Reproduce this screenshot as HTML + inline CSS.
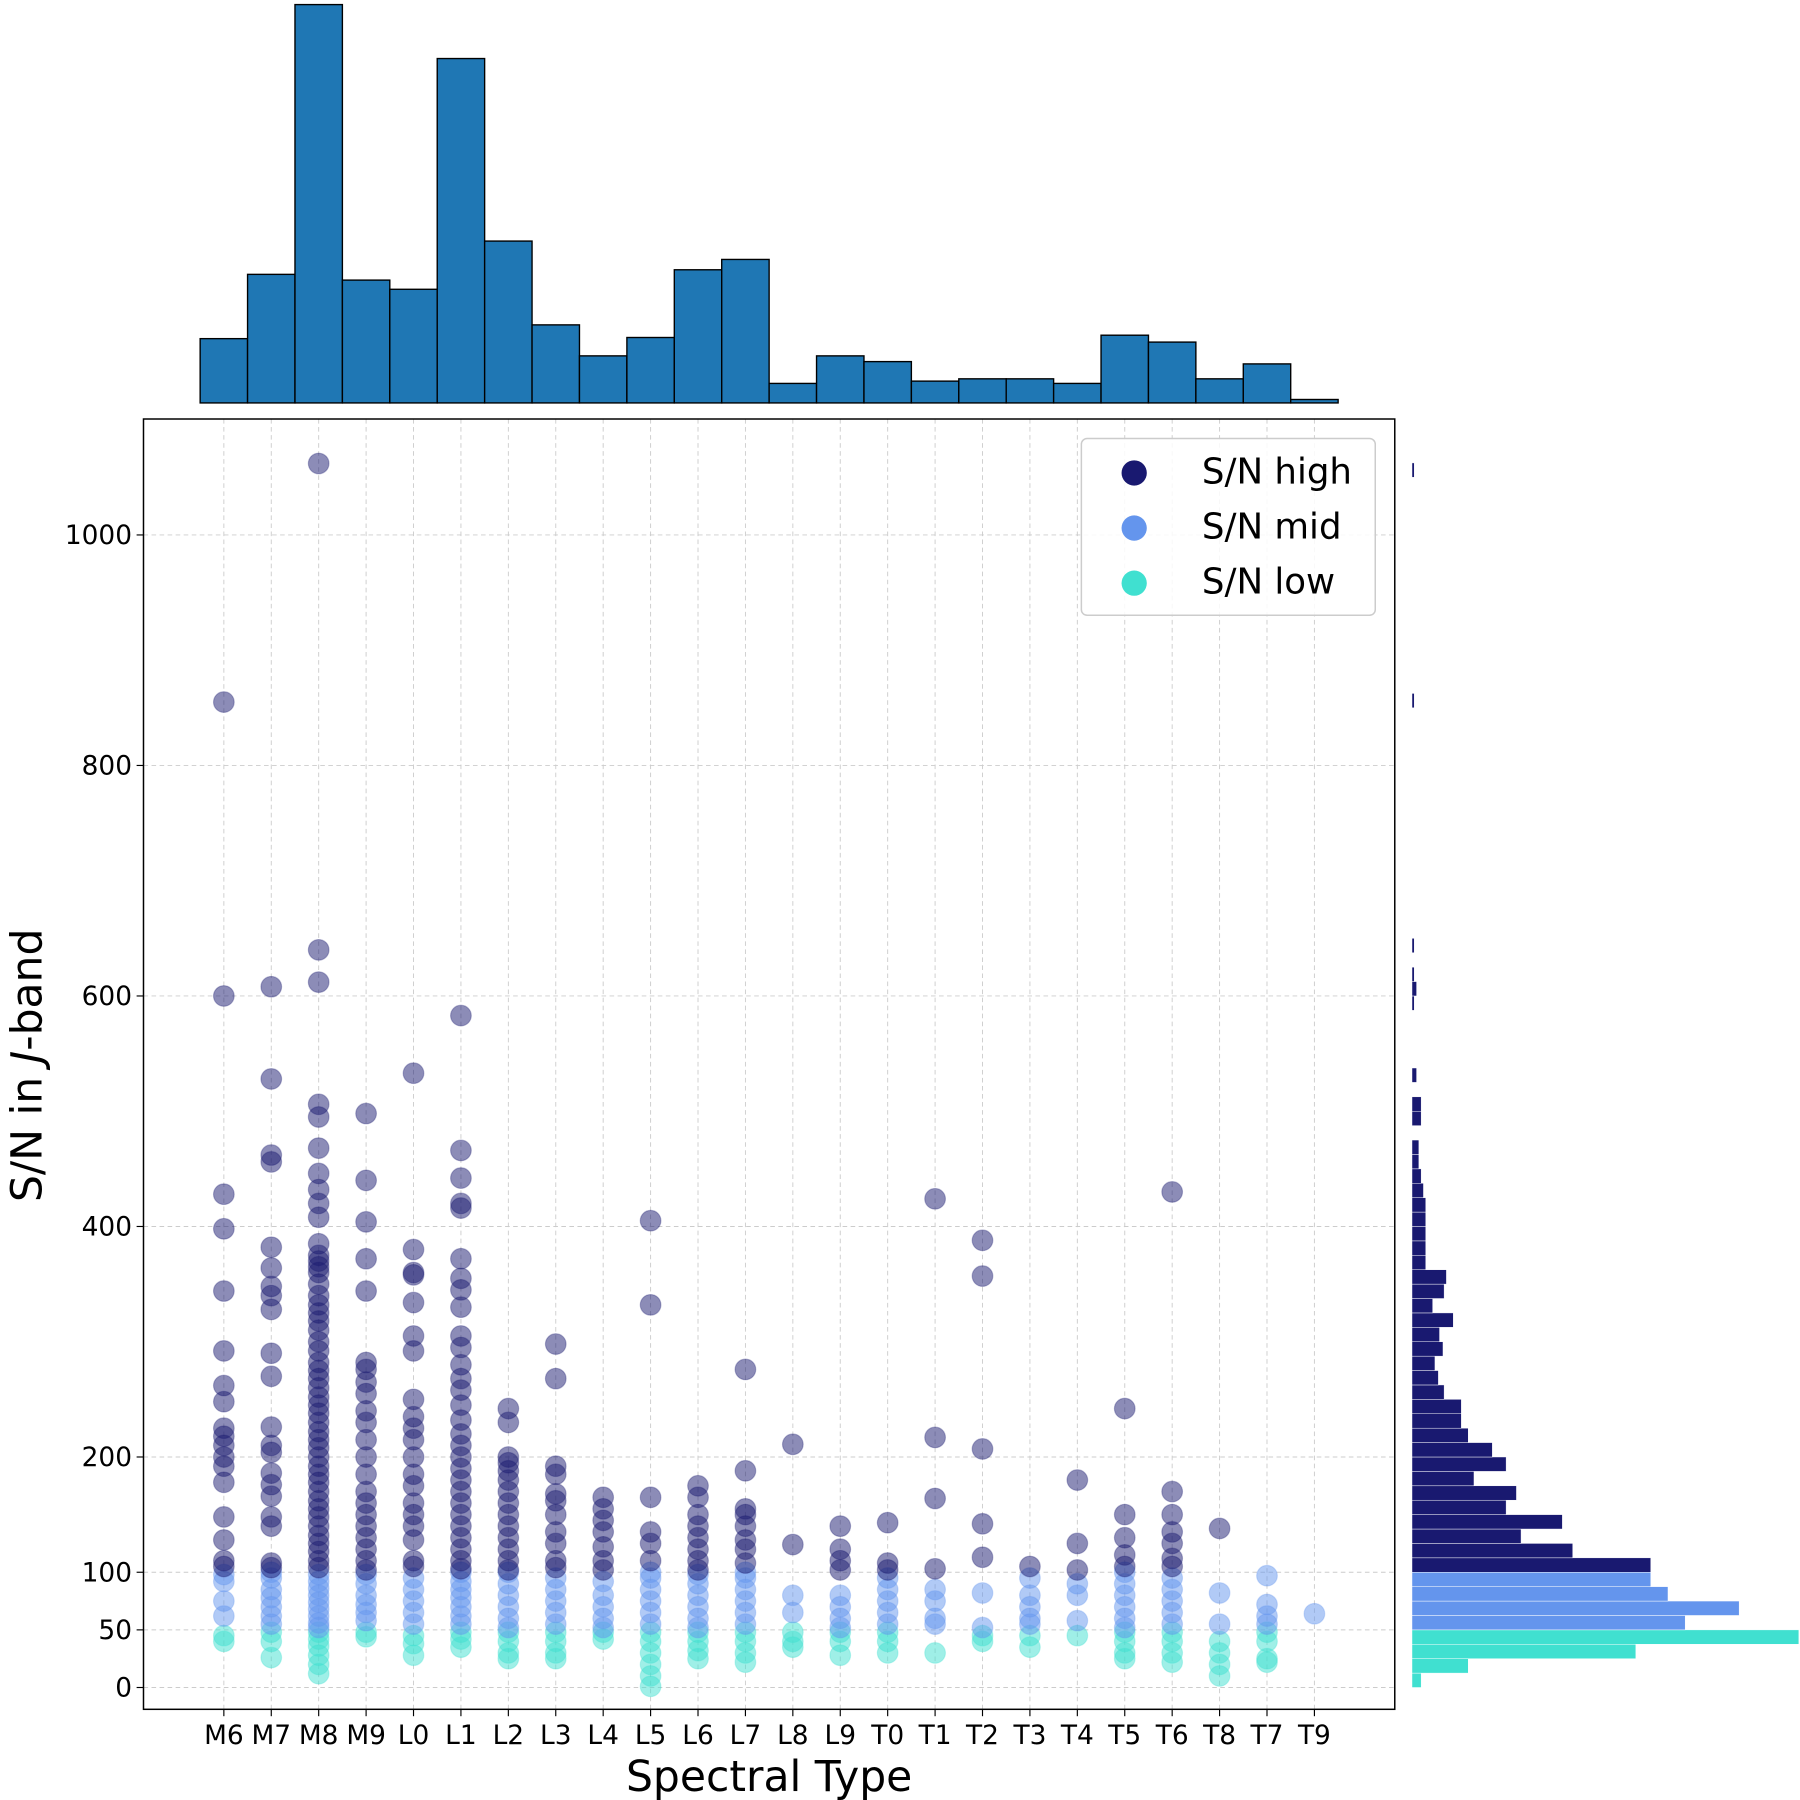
<!DOCTYPE html>
<html><head><meta charset="utf-8"><style>
html,body{margin:0;padding:0;background:#fff;}
svg{display:block;font-family:"DejaVu Sans","Liberation Sans",sans-serif;}
</style></head><body>
<svg id="chart" width="1800" height="1800" viewBox="0 0 1568 1568" xmlns="http://www.w3.org/2000/svg">
<g id="grid"></g>
<g id="points"></g>
<rect x="125" y="365" width="1090" height="1124" fill="none" stroke="#000" stroke-width="1.3"/>
<g id="ticks"></g>
<g id="tophist"></g>
<g id="righthist"></g>
<text x="670" y="1560" font-size="37" text-anchor="middle">Spectral Type</text>
<text transform="translate(36,928) rotate(-90)" font-size="37" text-anchor="middle">S/N in <tspan font-style="italic">J</tspan>-band</text>
<g>
<rect x="942" y="382" width="256" height="154" rx="5" fill="#fff" fill-opacity="0.85" stroke="#ccc" stroke-width="1.3"/>
<circle cx="988" cy="412" r="11" fill="#191970"/>
<text x="1047" y="421" font-size="31">S/N high</text>
<circle cx="988" cy="460" r="11" fill="#6495ED"/>
<text x="1047" y="469" font-size="31">S/N mid</text>
<circle cx="988" cy="508" r="11" fill="#40E0D0"/>
<text x="1047" y="517" font-size="31">S/N low</text>
</g>
</svg>
<script>
const categories=["M6","M7","M8","M9","L0","L1","L2","L3","L4","L5","L6","L7","L8","L9","T0","T1","T2","T3","T4","T5","T6","T8","T7","T9"];
const yTicks=[0,50,100,200,400,600,800,1000];
const topCounts=[56,112,347,107,99,300,141,68,41,57,116,125,17,41,36,19,21,21,17,59,53,21,34,3];
const histBins=[0,12.5,25,37.5,50,62.5,75,87.5,100,112.5,125,137.5,150,162.5,175,187.5,200,212.5,225,237.5,250,262.5,275,287.5,300,312.5,325,337.5,350,362.5,375,387.5,400,412.5,425,437.5,450,462.5,475,487.5,500,512.5,525,537.5,550,562.5,575,587.5,600,612.5,625,637.5,650,662.5,675,687.5,700,712.5,725,737.5,750,762.5,775,787.5,800,812.5,825,837.5,850,862.5,875,887.5,900,912.5,925,937.5,950,962.5,975,987.5,1000,1012.5,1025,1037.5,1050,1062.5];
const histCounts=[4,24.5,97.5,168.5,119,142.5,111.5,104,104,70,47.5,65.5,41,45.5,27,41,35,24.5,21.5,21.5,14,11.5,10,13.5,12,18,9,14,15,6,6,6,6,6,5,4,3,3,0,4,4,0,2,0,0,0,0,1,2,1,0,1,0,0,0,0,0,0,0,0,0,0,0,0,0,0,0,0,1,0,0,0,0,0,0,0,0,0,0,0,0,0,0,0,1];
const highVals=[
[855,600,428,398,344,292,262,248,225,218,210,200,192,178,148,128,110,105],
[608,528,462,456,382,364,348,340,328,290,270,226,210,204,186,176,166,148,140,108,104],
[1062,640,612,506,495,468,446,432,420,408,385,375,370,365,360,350,340,332,325,318,310,300,292,282,275,268,260,252,245,238,230,222,215,208,200,192,185,178,170,162,155,148,140,132,125,118,110,104],
[498,440,404,372,344,282,276,265,255,240,230,215,200,185,170,160,150,140,130,120,110,102],
[533,380,360,358,334,305,292,250,235,225,215,200,185,175,160,150,140,128,110,105],
[583,466,442,420,416,372,355,345,330,305,295,280,268,258,245,232,220,210,200,190,180,170,160,150,140,130,120,110,103],
[242,230,200,195,188,180,170,160,150,140,130,120,110,102],
[298,268,192,185,168,162,150,135,125,110,104],
[165,155,145,135,122,110,102],
[405,332,165,135,125,110],
[175,165,150,140,130,120,110,102],
[276,188,155,150,140,128,120,108],
[211,124],
[140,120,110,102],
[143,108,102],
[424,217,164,103],
[388,357,207,142,113],
[105],
[180,125,102],
[242,150,130,115,105],
[430,170,150,135,125,112,105],
[138],
[],
[]];
const midVals=[
[98,92,75,62],[100,95,85,78,70,62,55],[98,92,86,80,74,68,62,56,52],[98,90,80,72,65,58],[95,85,75,65,55],[100,92,85,78,70,62,55],[100,90,80,70,60,52],[95,85,75,65,55],[92,80,70,60,52],[100,95,85,75,65,55],[98,90,80,70,60,52],[100,95,85,75,65,55],[80,65],[80,70,60,52],[95,85,75,65,55],[85,75,60,55],[82,52],[95,80,70,60,55],[90,80,58],[100,90,80,70,60,52],[95,85,75,65,55],[82,55],[97,72,62,55],[64]];
const lowVals=[
[45,40],[48,40,26],[48,42,36,28,20,12],[48,44],[45,38,28],[48,42,35],[48,40,30,25],[48,40,30,25],[48,42],[48,40,30,20,10,1],[48,40,32,25],[48,40,30,22],[48,40,35],[48,40,28],[48,40,30],[30],[45,40],[45,35],[45],[48,40,30,25],[48,40,30,22],[40,30,20,10],[48,40,25,22],[]];

const NS="http://www.w3.org/2000/svg";
const X0=195,XSTEP=(1145-195)/23;
const xPos=i=>X0+i*XSTEP;
const yPos=v=>1470-v*1.004;
function mk(tag,attrs,parent){const e=document.createElementNS(NS,tag);for(const k in attrs)e.setAttribute(k,attrs[k]);parent.appendChild(e);return e;}
const grid=document.getElementById('grid'),ticks=document.getElementById('ticks');
categories.forEach((c,i)=>{
  const l=mk('line',{x1:xPos(i),x2:xPos(i),y1:365,y2:1489,stroke:'#ccc','stroke-width':0.8,'stroke-dasharray':'4,3'},grid);
  
  
  const t=mk('line',{x1:xPos(i),x2:xPos(i),y1:1489,y2:1495,stroke:'#000'},ticks);
  
  
  const tx=mk('text',{x:xPos(i),y:1519,'font-size':23,'text-anchor':'middle'},ticks);
  tx.textContent=c;
  
  
});
yTicks.forEach(v=>{
  const l=mk('line',{x1:125,x2:1215,y1:yPos(v),y2:yPos(v),stroke:'#ccc','stroke-width':0.8,'stroke-dasharray':'4,3'},grid);
  
  
  const t=mk('line',{x1:119,x2:125,y1:yPos(v),y2:yPos(v),stroke:'#000'},ticks);
  
  
  const tx=mk('text',{x:115,y:yPos(v)+8,'font-size':23,'text-anchor':'end'},ticks);
  tx.textContent=v;
  
  
});
const pts=document.getElementById('points');
function drawSeries(arr,color,name){
  arr.forEach((vals,i)=>vals.forEach(v=>{
    const c=mk('circle',{cx:xPos(i),cy:yPos(v),r:9,fill:color,'fill-opacity':0.5,stroke:color,'stroke-opacity':0.3},pts);
    
    
  }));
}
drawSeries(lowVals,'#40E0D0','point-low');
drawSeries(midVals,'#6495ED','point-mid');
drawSeries(highVals,'#191970','point-high');
const th=document.getElementById('tophist');
topCounts.forEach((n,i)=>{
  const r=mk('rect',{x:xPos(i)-XSTEP/2,y:351-n,width:XSTEP,height:n,fill:'#1f77b4',stroke:'#000','stroke-width':1.2},th);
  
  
});
const rh=document.getElementById('righthist');
histCounts.forEach((n,i)=>{
  if(!n)return;
  const lo=histBins[i],hi=histBins[i+1];
  const col=lo<50?'#40E0D0':(lo<100?'#6495ED':'#191970');
  const r=mk('rect',{x:1230,y:yPos(hi),width:n*2,height:yPos(lo)-yPos(hi),fill:col,stroke:'#fff','stroke-width':0.4},rh);
  
  
});
</script>
</body></html>
